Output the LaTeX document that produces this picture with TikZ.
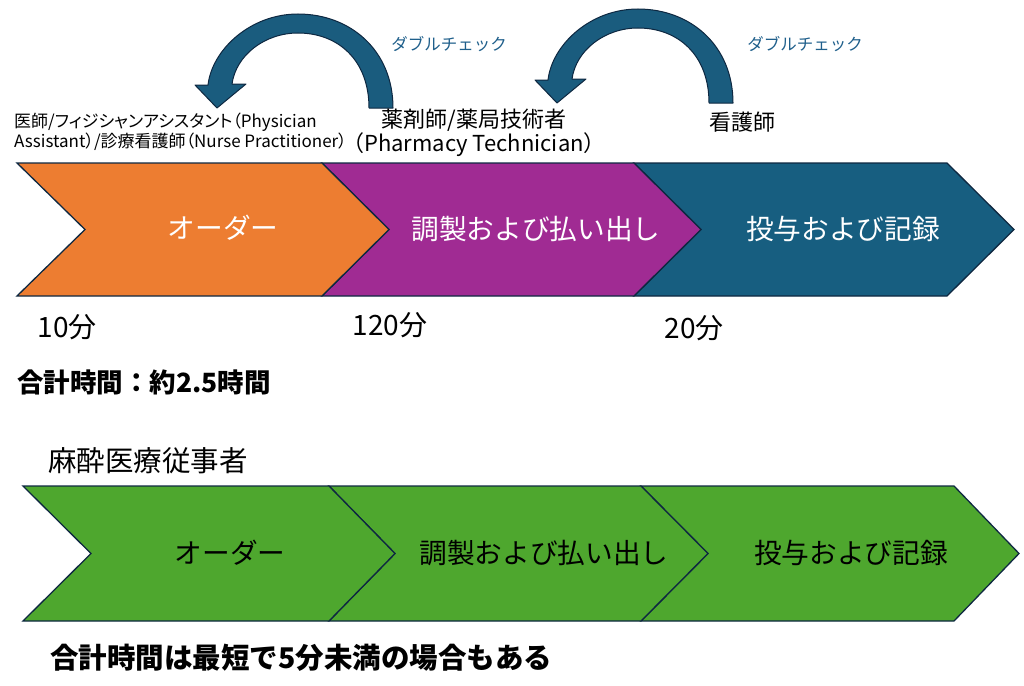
\documentclass[tikz,border=0pt]{standalone}
\usepackage{fontspec}
\setmainfont{Noto Sans CJK JP}
\newfontfamily\paltfont[RawFeature=+palt]{Noto Sans CJK JP}
\usetikzlibrary{positioning}
\definecolor{ordorange}{HTML}{ED7D31}
\definecolor{prepviolet}{HTML}{A02B93}
\definecolor{admblue}{HTML}{175E80}
\definecolor{anesgreen}{HTML}{4EA72E}
\definecolor{chevline}{HTML}{0E2841}
\definecolor{arrowblue}{HTML}{1A5C7E}
\definecolor{checkblue}{HTML}{1F5F8B}

\begin{document}
\begin{tikzpicture}[x=1pt, y=-1pt,
  chevron/.style={draw=chevline, line width=1.3pt},
  phase/.style={font=\fontsize{27.7}{30}\selectfont, inner sep=0pt},
  role/.style={font=\fontsize{22}{21}\selectfont, inner sep=0pt, align=center},
  mins/.style={font=\fontsize{28}{30}\selectfont, inner sep=0pt},
  total/.style={font=\bfseries\fontsize{26.5}{28}\selectfont, inner sep=0pt, anchor=west},
  check/.style={font=\fontsize{16.5}{18}\selectfont, text=checkblue, inner sep=0pt},
  dblarrow/.style={fill=arrowblue, draw=chevline, line width=1pt, line join=round}]
\useasboundingbox (0,0) rectangle (1024,685);
% double-check arrows
\draw[dblarrow] (393,108) .. controls (393,50) and (350,14) .. (298,14)
  .. controls (250,14) and (212,50) .. (208,85) -- (195,85) -- (217,108) -- (246,84) -- (232,84)
  .. controls (236,55) and (265,33) .. (298,33) .. controls (338,33) and (369,60) .. (369,108) -- cycle;
\draw[dblarrow, shift={(340,-5)}] (393,108) .. controls (393,50) and (350,14) .. (298,14)
  .. controls (250,14) and (212,50) .. (208,85) -- (195,85) -- (217,108) -- (246,84) -- (232,84)
  .. controls (236,55) and (265,33) .. (298,33) .. controls (338,33) and (369,60) .. (369,108) -- cycle;
\node[check] (chk1) at (449,44) {ダブルチェック};
\node[check] (chk2) at (805,44) {ダブルチェック};
% roles
\node[font=\paltfont\fontsize{17}{18}\selectfont, align=left, anchor=west, inner sep=0pt] (doc) at (14,132)
  {医師/フィジシャンアシスタント（Physician\\Assistant）/診療看護師（Nurse Practitioner）};
\node[role] (pharm) at (474,133) {薬剤師/薬局技術者\\（Pharmacy Technician）};
\node[role] (nurse) at (742,122) {看護師};
% current process
\draw[chevron, fill=admblue] (634,163) -- (947,163) -- (1014,229.5) -- (947,296) -- (634,296) -- (701,229.5) -- cycle;
\draw[chevron, fill=prepviolet] (322,163) -- (634,163) -- (701,229.5) -- (634,296) -- (322,296) -- (389,229.5) -- cycle;
\draw[chevron, fill=ordorange] (17,163) -- (322,163) -- (389,229.5) -- (322,296) -- (17,296) -- (85,229.5) -- cycle;
\node[phase, text=white] (ord) at (223,228) {オーダー};
\node[phase, text=white] (prep) at (536,229) {調製および払い出し};
\node[phase, text=white] (adm) at (843,229) {投与および記録};
\node[mins] (t1) at (67,327) {10分};
\node[mins] (t2) at (390,325) {120分};
\node[mins] (t3) at (694,328) {20分};
\node[total] (sum1) at (17,382) {合計時間：約2.5時間};
% anesthesia
\node[font=\fontsize{28.5}{30}\selectfont, anchor=west, inner sep=0pt] (anes) at (48,461) {麻酔医療従事者};
\draw[chevron, fill=anesgreen] (641,486) -- (954,486) -- (1019,553.5) -- (954,621) -- (641,621) -- (708,553.5) -- cycle;
\draw[chevron, fill=anesgreen] (329,486) -- (641,486) -- (708,553.5) -- (641,621) -- (329,621) -- (395,553.5) -- cycle;
\draw[chevron, fill=anesgreen] (23,486) -- (329,486) -- (395,553.5) -- (329,621) -- (23,621) -- (91,553.5) -- cycle;
\node[phase] (ord2) at (230,553) {オーダー};
\node[phase] (prep2) at (544,553) {調製および払い出し};
\node[phase] (adm2) at (851,553) {投与および記録};
\node[total, font=\bfseries\fontsize{28.5}{30}\selectfont] (sum2) at (50,658) {合計時間は最短で5分未満の場合もある};
\end{tikzpicture}
\end{document}
